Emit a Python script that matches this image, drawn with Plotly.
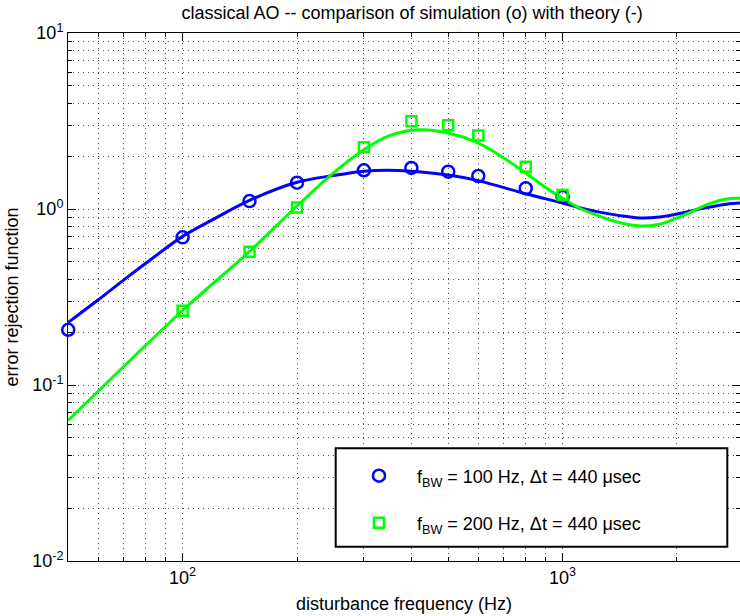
import numpy as np
import plotly.graph_objects as go

# ---------------- data ----------------
freq_sim_100 = [50, 100, 150, 200, 300, 400, 500, 600, 800, 1000]
sim_100 = [0.206, 0.69, 1.11, 1.41, 1.66, 1.71, 1.63, 1.54, 1.31, 1.17]

freq_sim_200 = [100, 150, 200, 300, 400, 500, 600, 800, 1000]
sim_200 = [0.264, 0.572, 1.02, 2.24, 3.15, 2.99, 2.62, 1.74, 1.20]

freq_th_100 = [50, 60, 71, 83.5, 100, 120, 150, 200, 250, 300, 345, 400, 500,
               600, 800, 1000, 1100, 1250, 1400, 1600, 1800, 1950, 2150, 2400,
               2700, 2930]
th_100 = [0.227, 0.305, 0.405, 0.527, 0.699, 0.870, 1.12, 1.42, 1.55, 1.64,
          1.66, 1.64, 1.56, 1.45, 1.22, 1.08, 1.02, 0.96, 0.92, 0.89, 0.90,
          0.925, 0.969, 1.02, 1.065, 1.08]

freq_th_200 = [50, 100, 150, 200, 250, 300, 350, 420, 500, 600, 700, 800, 900,
               1000, 1100, 1250, 1400, 1600, 1800, 1950, 2150, 2400, 2700, 2930]
th_200 = [0.0629, 0.265, 0.574, 1.04, 1.61, 2.17, 2.61, 2.82, 2.70, 2.37,
          1.95, 1.60, 1.33, 1.15, 1.02, 0.91, 0.84, 0.80, 0.82, 0.87, 0.95,
          1.06, 1.14, 1.15]

x_major = [100, 1000]
x_major_text = ["10<sup>2</sup>", "10<sup>3</sup>"]
x_minor = [60, 70, 80, 90, 200, 300, 400, 500, 600, 700, 800, 900, 2000]
y_major = [0.01, 0.1, 1, 10]
y_major_text = ["10<sup>-2</sup>", "10<sup>-1</sup>", "10<sup>0</sup>", "10<sup>1</sup>"]
y_minor = [m * d for d in (0.01, 0.1, 1) for m in range(2, 10)]

label_100 = "f<sub>BW</sub> = 100 Hz, \u0394t = 440 \u03bcsec"
label_200 = "f<sub>BW</sub> = 200 Hz, \u0394t = 440 \u03bcsec"

title_text = "classical AO -- comparison of simulation (o) with theory (-)"
x_title = "disturbance frequency (Hz)"
y_title = "error rejection function"

# ---------------- figure ----------------
BLUE = "#0000ff"
GREEN = "#00ff00"
FONT = "Liberation Sans, Arial, Helvetica, sans-serif"

fig = go.Figure()
fig.add_trace(go.Scatter(x=freq_th_100, y=th_100, mode="lines",
                         line=dict(color=BLUE, width=3, shape="spline"),
                         showlegend=False, hoverinfo="skip"))
fig.add_trace(go.Scatter(x=freq_th_200, y=th_200, mode="lines",
                         line=dict(color=GREEN, width=3, shape="spline"),
                         showlegend=False, hoverinfo="skip"))
fig.add_trace(go.Scatter(x=freq_sim_100, y=sim_100, mode="markers", name=label_100,
                         legendgroup="a", cliponaxis=False,
                         marker=dict(symbol="circle-open", size=12, color=BLUE,
                                     line=dict(width=2.5, color=BLUE))))
fig.add_trace(go.Scatter(x=freq_sim_200, y=sim_200, mode="markers", name=label_200,
                         legendgroup="b", cliponaxis=False,
                         marker=dict(symbol="square-open", size=10, color=GREEN,
                                     line=dict(width=2.5, color=GREEN))))

L, T, B, W, H = 68, 33, 55, 740, 616
pw, ph = W - L, H - T - B


def px_x(p):
    return (p - L) / pw


def px_y(p):
    return (H - B - p) / ph


grid = dict(gridcolor="rgba(0,0,0,0.7)", griddash="1px,4px", gridwidth=1)

fig.update_layout(
    width=W, height=H,
    margin=dict(l=L, r=0, t=T, b=B, pad=0),
    paper_bgcolor="white", plot_bgcolor="white",
    font=dict(family=FONT, size=18, color="black"),
    title=dict(text=title_text, x=0.512, xref="paper", xanchor="center",
               y=1 - 12.5 / H, yref="container", yanchor="middle",
               font=dict(size=18)),
    xaxis=dict(type="log", range=[np.log10(50) - 0.0006, np.log10(2930)],
               tickmode="array", tickvals=x_major, ticktext=x_major_text,
               ticks="inside", ticklen=8, tickwidth=1, tickcolor="black",
               showline=True, linecolor="black", linewidth=1, mirror="allticks",
               showgrid=True, zeroline=False, **grid,
               tickfont=dict(size=18),
               minor=dict(tickmode="array", tickvals=x_minor, ticks="inside",
                          ticklen=4, tickcolor="black", showgrid=True, **grid),
               title=dict(text=x_title, standoff=10, font=dict(size=18))),
    yaxis=dict(type="log", range=[-2, 1],
               tickmode="array", tickvals=y_major, ticktext=y_major_text,
               ticks="inside", ticklen=8, tickwidth=1, tickcolor="black",
               showline=True, linecolor="black", linewidth=1, mirror="allticks",
               showgrid=True, zeroline=False, **grid,
               tickfont=dict(size=18),
               minor=dict(tickmode="array", tickvals=y_minor, ticks="inside",
                          ticklen=4, tickcolor="black", showgrid=True, **grid),
               title=dict(text=y_title, standoff=8, font=dict(size=18))),
    legend=dict(x=px_x(341), y=px_y(457.5), xanchor="left", yanchor="top",
                bgcolor="rgba(0,0,0,0)", borderwidth=0,
                itemwidth=66, traceorder="grouped", tracegroupgap=20.7,
                font=dict(size=18)),
    shapes=[dict(type="rect", xref="paper", yref="paper",
                 x0=px_x(335.7), x1=px_x(727.3), y0=px_y(546.7), y1=px_y(448.3),
                 line=dict(color="black", width=2), fillcolor="white",
                 layer="above")],
)

fig.write_html("out.html")
